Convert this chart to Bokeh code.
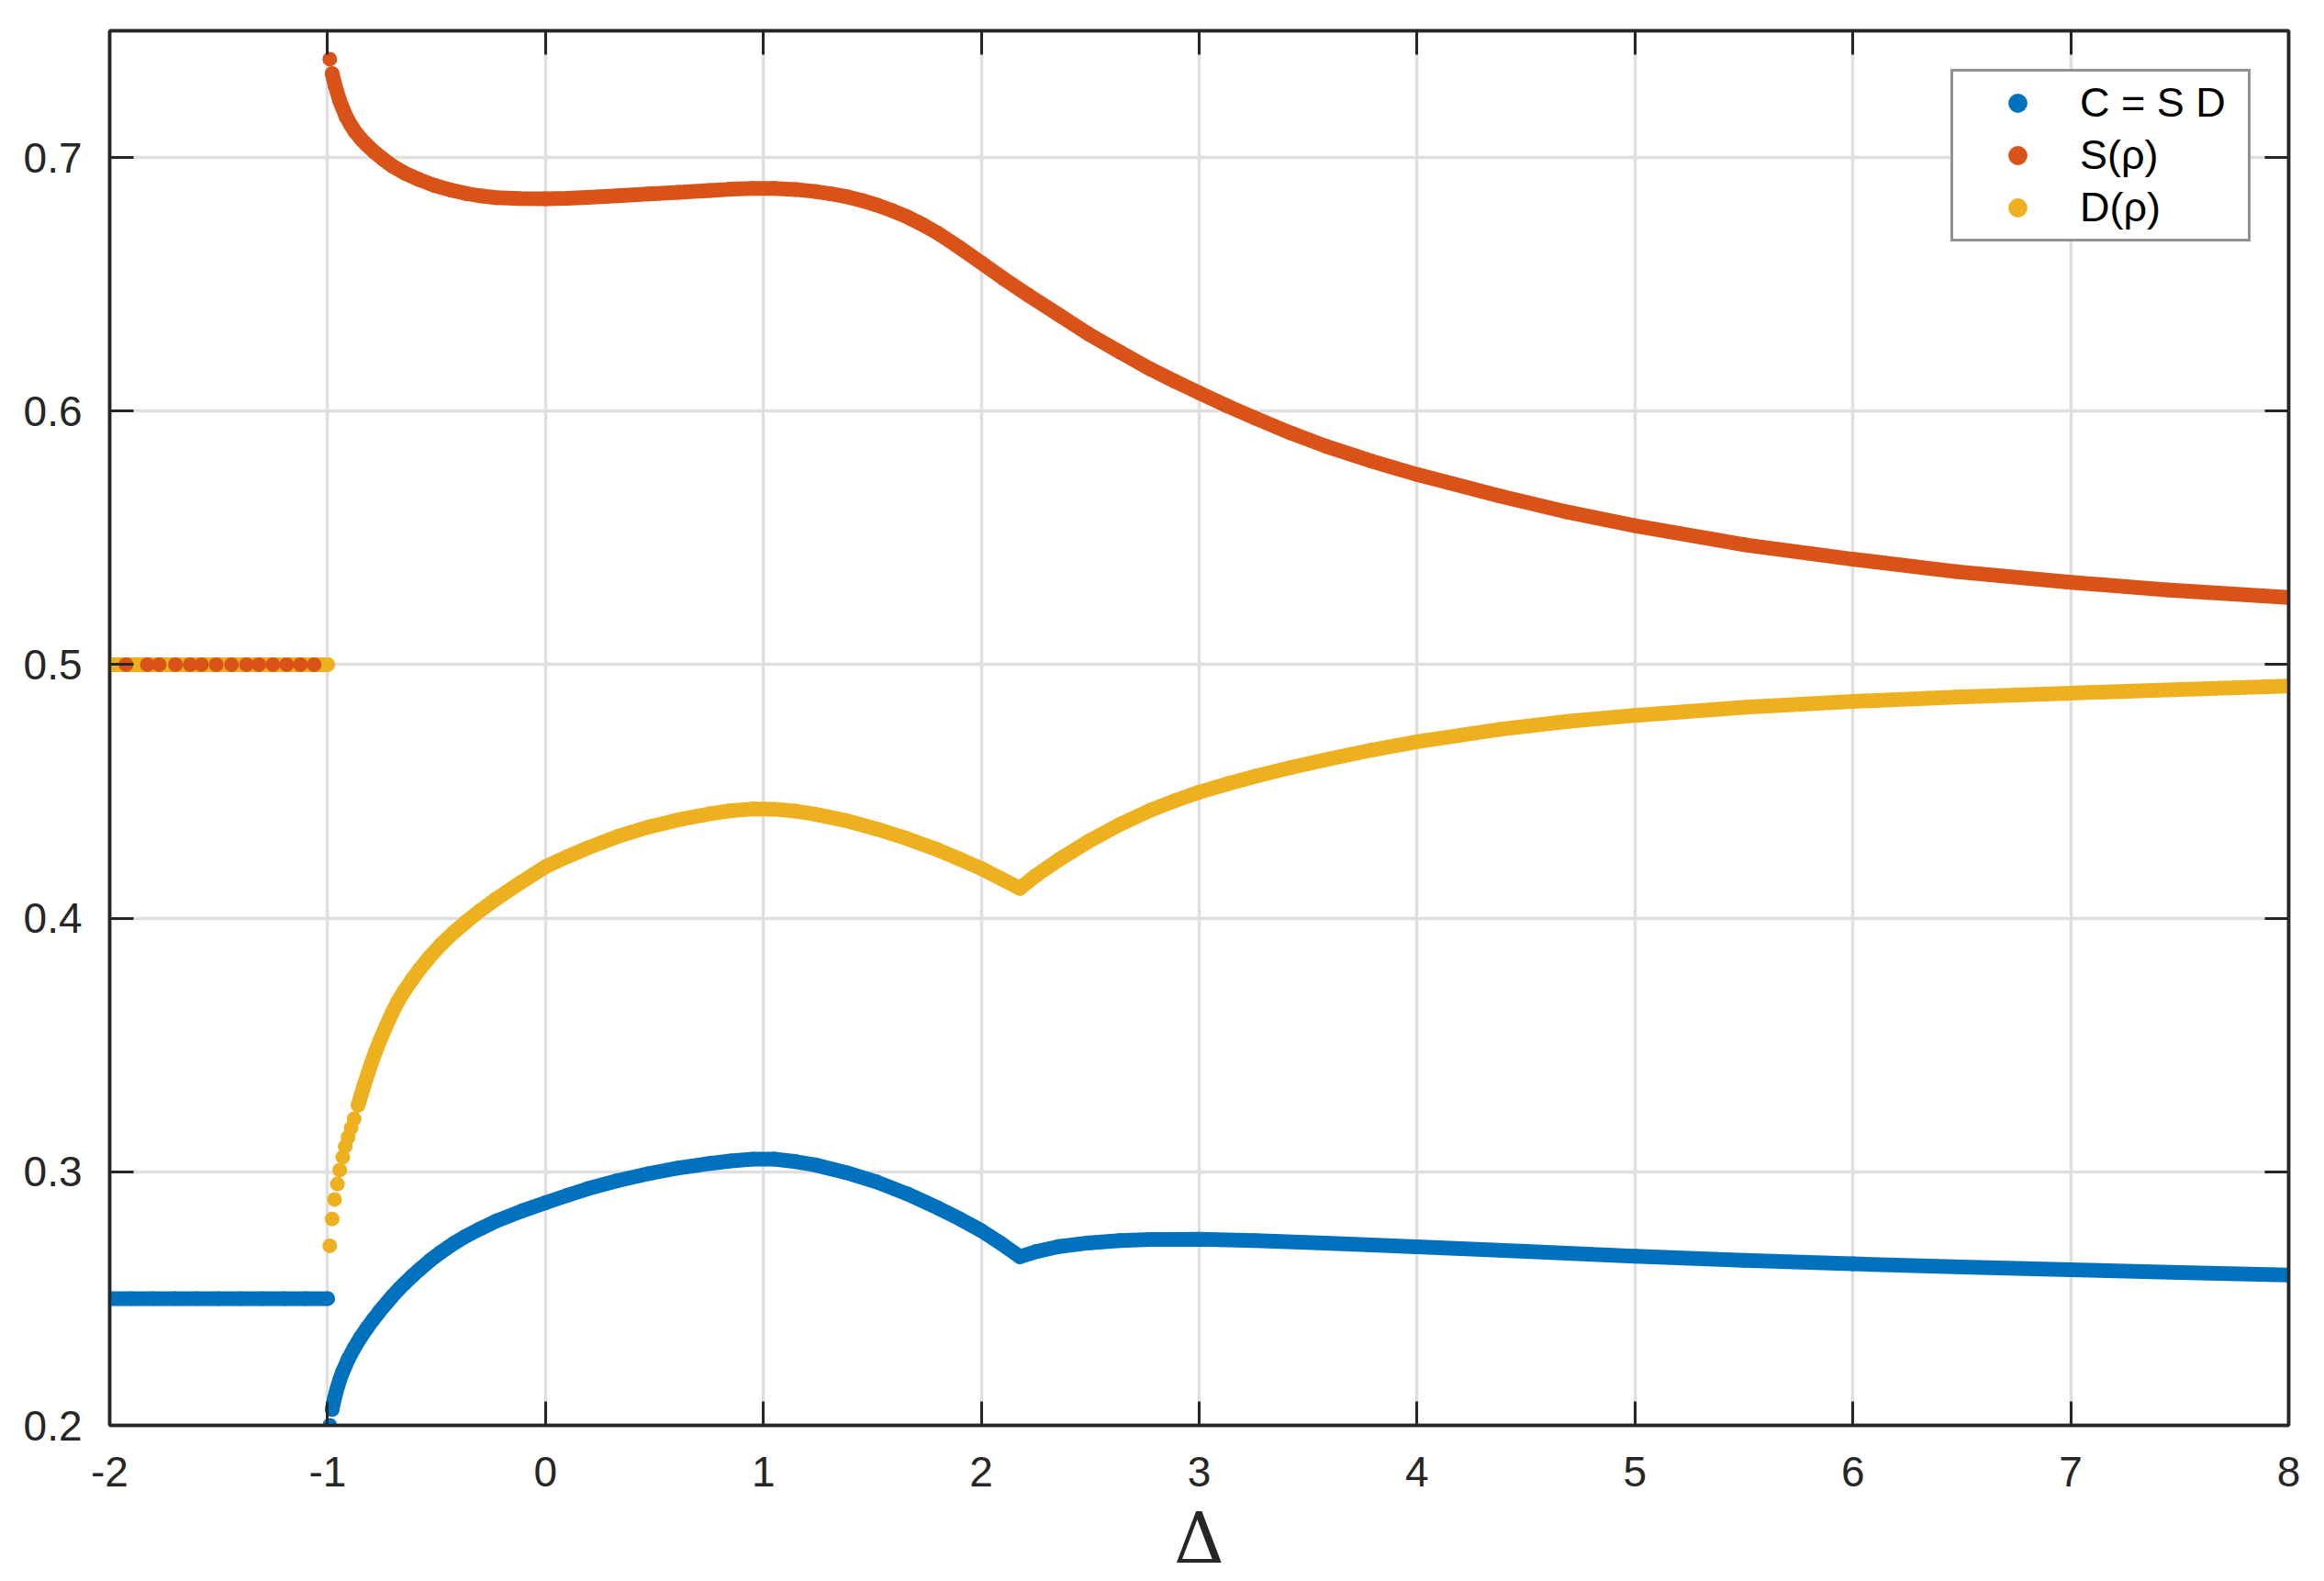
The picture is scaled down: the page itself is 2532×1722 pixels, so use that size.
from bokeh.plotting import figure
from bokeh.models import Range1d, LinearAxis, FixedTicker, Legend, LegendItem
from bokeh.embed import file_html
from bokeh.resources import INLINE

# ---------------- data ----------------
x_ticks = [-2, -1, 0, 1, 2, 3, 4, 5, 6, 7, 8]
x_tick_labels = ["-2", "-1", "0", "1", "2", "3", "4", "5", "6", "7", "8"]
y_ticks = [0.2, 0.3, 0.4, 0.5, 0.6, 0.7]
y_tick_labels = ["0.2", "0.3", "0.4", "0.5", "0.6", "0.7"]
x_label = "Δ"

# plateau region  -2 <= Delta <= -1
c_plateau_x = [-2.0, -1.9, -1.8, -1.7, -1.6, -1.5, -1.4, -1.3, -1.2, -1.1, -1.0]
c_plateau_y = [0.25, 0.25, 0.25, 0.25, 0.25, 0.25, 0.25, 0.25, 0.25, 0.25, 0.25]
d_plateau_x = [-2.0, -1.9, -1.8, -1.7, -1.6, -1.5, -1.4, -1.3, -1.2, -1.1, -1.0]
d_plateau_y = [0.5, 0.5, 0.5, 0.5, 0.5, 0.5, 0.5, 0.5, 0.5, 0.5, 0.5]
s_plateau_x = [-1.925, -1.827, -1.773, -1.698, -1.631, -1.579, -1.511,
               -1.441, -1.372, -1.315, -1.251, -1.188, -1.125, -1.062]
s_plateau_y = [0.5, 0.5, 0.5, 0.5, 0.5, 0.5, 0.5, 0.5, 0.5, 0.5, 0.5, 0.5, 0.5, 0.5]

# main branch  Delta > -1
c_x = [-0.990, -0.979, -0.968, -0.955, -0.944, -0.930, -0.906, -0.878, -0.850,
       -0.820, -0.790, -0.761, -0.730, -0.705, -0.670, -0.649, -0.610, -0.579,
       -0.530, -0.481, -0.420, -0.368, -0.300, -0.228, -0.110, 0.000, 0.100,
       0.193, 0.330, 0.474, 0.610, 0.754, 0.850, 0.952, 1.050, 1.150, 1.239,
       1.380, 1.520, 1.660, 1.800, 1.900, 2.000, 2.090, 2.177, 2.250, 2.355,
       2.496, 2.636, 2.776, 3.000, 3.258, 3.580, 4.000, 4.500, 5.000, 5.500,
       6.000, 6.500, 7.000, 7.500, 8.000]
c_y = [0.2000, 0.2063, 0.2108, 0.2150, 0.2180, 0.2213, 0.2260, 0.2305, 0.2345,
       0.2383, 0.2418, 0.2450, 0.2482, 0.2507, 0.2540, 0.2558, 0.2590, 0.2614,
       0.2650, 0.2682, 0.2718, 0.2745, 0.2775, 0.2805, 0.2845, 0.2878, 0.2907,
       0.2933, 0.2965, 0.2993, 0.3015, 0.3033, 0.3043, 0.3050, 0.3050, 0.3040,
       0.3027, 0.2997, 0.2960, 0.2913, 0.2858, 0.2815, 0.2768, 0.2718, 0.2665,
       0.2685, 0.2705, 0.2720, 0.2729, 0.2733, 0.2734, 0.2729, 0.2719, 0.2704,
       0.2686, 0.2667, 0.2651, 0.2637, 0.2625, 0.2614, 0.2603, 0.2593]

s_x = [-0.990, -0.979, -0.965, -0.944, -0.916, -0.895, -0.874, -0.846, -0.818,
       -0.783, -0.747, -0.700, -0.649, -0.580, -0.509, -0.440, -0.368, -0.300,
       -0.228, -0.120, 0.000, 0.100, 0.193, 0.330, 0.474, 0.610, 0.754, 0.850,
       0.952, 1.050, 1.150, 1.239, 1.310, 1.380, 1.450, 1.520, 1.590, 1.660,
       1.730, 1.800, 1.900, 2.000, 2.100, 2.215, 2.355, 2.496, 2.636, 2.776,
       2.890, 3.000, 3.130, 3.258, 3.420, 3.580, 3.790, 4.000, 4.380, 4.690,
       5.000, 5.510, 6.000, 6.474, 7.000, 7.440, 8.000]
s_y = [0.7388, 0.7331, 0.7283, 0.7223, 0.7163, 0.7130, 0.7102, 0.7073, 0.7048,
       0.7020, 0.6995, 0.6965, 0.6940, 0.6913, 0.6890, 0.6873, 0.6859, 0.6849,
       0.6842, 0.6838, 0.6837, 0.6839, 0.6843, 0.6849, 0.6856, 0.6863, 0.6870,
       0.6875, 0.6878, 0.6878, 0.6874, 0.6866, 0.6857, 0.6846, 0.6831, 0.6813,
       0.6791, 0.6766, 0.6736, 0.6702, 0.6645, 0.6585, 0.6524, 0.6458, 0.6380,
       0.6302, 0.6233, 0.6166, 0.6117, 0.6072, 0.6020, 0.5972, 0.5914, 0.5862,
       0.5803, 0.5750, 0.5665, 0.5602, 0.5548, 0.5472, 0.5416, 0.5367, 0.5325,
       0.5295, 0.5265]

d_x = [-0.990, -0.979, -0.968, -0.955, -0.944, -0.930, -0.919, -0.906, -0.892,
       -0.878, -0.860, -0.846, -0.832, -0.814, -0.796, -0.778, -0.761, -0.733,
       -0.705, -0.677, -0.649, -0.614, -0.579, -0.530, -0.481, -0.420, -0.368,
       -0.300, -0.228, -0.110, 0.000, 0.100, 0.193, 0.330, 0.474, 0.610, 0.754,
       0.850, 0.952, 1.050, 1.150, 1.239, 1.380, 1.520, 1.660, 1.800, 1.900,
       2.000, 2.090, 2.177, 2.250, 2.355, 2.496, 2.636, 2.776, 2.890, 3.000,
       3.130, 3.258, 3.420, 3.580, 3.790, 4.000, 4.380, 4.690, 5.000, 5.510,
       6.000, 6.474, 7.000, 7.500, 8.000]
d_y = [0.2708, 0.2814, 0.2891, 0.2952, 0.3007, 0.3058, 0.3100, 0.3136, 0.3173,
       0.3209, 0.3263, 0.3303, 0.3342, 0.3390, 0.3436, 0.3478, 0.3515, 0.3572,
       0.3625, 0.3672, 0.3712, 0.3756, 0.3797, 0.3849, 0.3895, 0.3945, 0.3983,
       0.4030, 0.4075, 0.4143, 0.4203, 0.4243, 0.4277, 0.4322, 0.4360, 0.4388,
       0.4412, 0.4424, 0.4431, 0.4430, 0.4422, 0.4410, 0.4385, 0.4352, 0.4314,
       0.4270, 0.4234, 0.4196, 0.4157, 0.4118, 0.4168, 0.4230, 0.4305, 0.4370,
       0.4426, 0.4464, 0.4497, 0.4530, 0.4560, 0.4594, 0.4625, 0.4663, 0.4696,
       0.4745, 0.4776, 0.4800, 0.4832, 0.4855, 0.4872, 0.4888, 0.4902, 0.4916]

# index where the sampled points become dense enough to form a band
c_dense_from = 1
s_dense_from = 1
d_dense_from = 10

C_COLOR = "#0072BD"
S_COLOR = "#D95319"
D_COLOR = "#EDB120"
AX_COLOR = "#262626"
GRID_COLOR = "#dfdfdf"
FONT = "Liberation Sans"

# ---------------- figure ----------------
p = figure(width=2516, height=1722, output_backend="svg", toolbar_location=None,
           x_range=Range1d(-2, 8), y_range=Range1d(0.2, 0.75),
           min_border_left=119, min_border_right=23, min_border_top=33,
           min_border_bottom=170)

p.background_fill_color = "white"
p.border_fill_color = "white"
p.outline_line_color = AX_COLOR
p.outline_line_width = 3.5

# grid
p.xgrid.ticker = FixedTicker(ticks=x_ticks)
p.ygrid.ticker = FixedTicker(ticks=y_ticks)
for g in (p.xgrid, p.ygrid):
    g.grid_line_color = GRID_COLOR
    g.grid_line_width = 3.5


def style_axis(ax, show_labels, standoff):
    ax.axis_line_color = AX_COLOR
    ax.axis_line_width = 3.5
    ax.major_tick_line_color = AX_COLOR
    ax.major_tick_line_width = 3
    ax.major_tick_in = 26
    ax.major_tick_out = 0
    ax.minor_tick_in = 0
    ax.minor_tick_out = 0
    ax.minor_tick_line_color = None
    ax.major_label_text_font = FONT
    ax.major_label_text_color = AX_COLOR
    ax.major_label_standoff = standoff
    ax.major_label_text_font_size = "46px" if show_labels else "0px"


p.xaxis.ticker = FixedTicker(ticks=x_ticks)
p.xaxis.major_label_overrides = {t: l for t, l in zip(x_ticks, x_tick_labels)}
p.yaxis.ticker = FixedTicker(ticks=y_ticks)
p.yaxis.major_label_overrides = {t: l for t, l in zip(y_ticks, y_tick_labels)}
style_axis(p.xaxis[0], True, 34)
style_axis(p.yaxis[0], True, 30)

p.xaxis.axis_label = x_label
p.xaxis.axis_label_text_font = "DejaVu Serif"
p.xaxis.axis_label_text_font_style = "normal"
p.xaxis.axis_label_text_font_size = "76px"
p.xaxis.axis_label_text_color = AX_COLOR
p.xaxis.axis_label_standoff = 9

top_axis = LinearAxis(ticker=FixedTicker(ticks=x_ticks))
top_axis.major_label_overrides = {t: "" for t in x_ticks}
style_axis(top_axis, False, 0)
p.add_layout(top_axis, "above")

right_axis = LinearAxis(ticker=FixedTicker(ticks=y_ticks))
right_axis.major_label_overrides = {t: "" for t in y_ticks}
style_axis(right_axis, False, 0)
p.add_layout(right_axis, "right")

# ---------------- data marks ----------------
MS = 16
LW = 16

# C
p.line(c_plateau_x, c_plateau_y, line_width=LW, line_color=C_COLOR, line_cap="round", line_join="round")
p.line(c_x[c_dense_from:], c_y[c_dense_from:], line_width=LW, line_color=C_COLOR, line_cap="round", line_join="round")
p.scatter(c_plateau_x, c_plateau_y, size=MS, marker="circle", fill_color=C_COLOR, line_color=None)
rc = p.scatter(c_x, c_y, size=MS, marker="circle", fill_color=C_COLOR, line_color=None)

# D
p.line(d_plateau_x, d_plateau_y, line_width=LW, line_color=D_COLOR, line_cap="round", line_join="round")
p.line(d_x[d_dense_from:], d_y[d_dense_from:], line_width=LW, line_color=D_COLOR, line_cap="round", line_join="round")
p.scatter(d_plateau_x, d_plateau_y, size=MS, marker="circle", fill_color=D_COLOR, line_color=None)
rd = p.scatter(d_x, d_y, size=MS, marker="circle", fill_color=D_COLOR, line_color=None)

# S
p.line(s_x[s_dense_from:], s_y[s_dense_from:], line_width=LW, line_color=S_COLOR, line_cap="round", line_join="round")
p.scatter(s_plateau_x, s_plateau_y, size=MS, marker="circle", fill_color=S_COLOR, line_color=None)
rs = p.scatter(s_x, s_y, size=MS, marker="circle", fill_color=S_COLOR, line_color=None)

# ---------------- legend ----------------
legend = Legend(items=[LegendItem(label="C = S D", renderers=[rc]),
                       LegendItem(label="S(ρ)", renderers=[rs]),
                       LegendItem(label="D(ρ)", renderers=[rd])],
                location=(2006, 1289))
legend.label_text_font = FONT
legend.label_text_font_size = "45px"
legend.label_text_color = "black"
legend.glyph_width = 124
legend.glyph_height = 52
legend.label_height = 52
legend.label_width = 175
legend.label_standoff = 6
legend.spacing = 5
legend.padding = 8
legend.margin = 0
legend.border_line_color = AX_COLOR
legend.border_line_width = 3.5
legend.background_fill_color = "white"
legend.background_fill_alpha = 1.0
p.add_layout(legend)

open("out.html", "w").write(file_html(p, INLINE))
